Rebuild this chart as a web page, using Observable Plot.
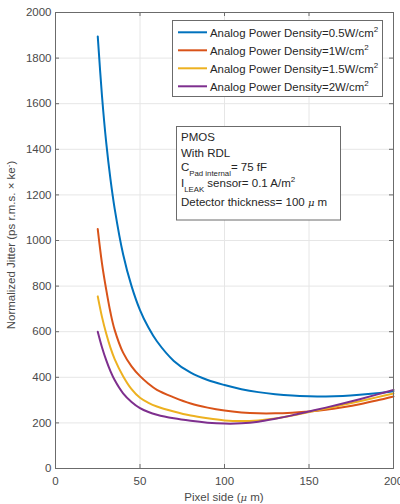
<!DOCTYPE html>
<html><head><meta charset="utf-8">
<script src="https://cdn.jsdelivr.net/npm/d3@7"></script>
<script src="https://cdn.jsdelivr.net/npm/@observablehq/plot@0.6"></script>
<style>
html,body{margin:0;padding:0;background:#fff;}
#chart{width:400px;height:504px;}
</style></head><body><div id="chart"></div>
<script>
// Pixel side (µm)
const pixelSide = [25, 27.5, 30, 32.5, 35, 40, 45, 50, 55, 60, 70, 80, 90, 100, 110, 120, 130, 140, 150, 160, 170, 180, 190, 200];
// Normalized jitter per analog power density
const jitter05 = [1895, 1635, 1430, 1270, 1140, 940, 800, 695, 618, 558, 472, 420, 388, 366, 348, 335, 326, 320, 317, 316, 318, 323, 330, 339];
const jitter1  = [1050, 900, 785, 685, 608, 508, 448, 405, 372, 345, 312, 285, 267, 254, 246, 242, 242, 245, 250, 258, 269, 282, 298, 316];
const jitter15 = [755, 665, 592, 530, 480, 405, 348, 310, 288, 272, 250, 232, 220, 211, 208, 211, 219, 232, 248, 263, 279, 295, 312, 329];
const jitter2  = [600, 532, 475, 427, 388, 330, 292, 265, 248, 236, 220, 209, 201, 197, 198, 205, 218, 233, 250, 267, 285, 304, 324, 345];
const seriesNames = ["0.5", "1", "1.5", "2"];
const seriesColors = ["#0072BD", "#D95319", "#EDB120", "#7E2F8E"];
const xTicks = [0, 50, 100, 150, 200];
const yTicks = [0, 200, 400, 600, 800, 1000, 1200, 1400, 1600, 1800, 2000];

const seriesValues = [jitter05, jitter1, jitter15, jitter2];
const data = [];
seriesValues.forEach((arr, i) => arr.forEach((v, j) => data.push({x: pixelSide[j], y: v, s: seriesNames[i]})));

const W = 400, H = 504, mL = 55, mR = 7, mT = 12, mB = 36;
const iw = W - mL - mR, ih = H - mT - mB;
const tk = 4;
const axisCol = "#6b6b6b";
const font = "Liberation Sans, Arial, Helvetica, sans-serif";

const plot = Plot.plot({
  width: W, height: H,
  marginLeft: mL, marginRight: mR, marginTop: mT, marginBottom: mB,
  style: {fontFamily: font, background: "#fff", color: "#4a4a4a", fontSize: "11.5px"},
  x: {domain: [0, 200]},
  y: {domain: [0, 2000]},
  color: {domain: seriesNames, range: seriesColors},
  marks: [
    Plot.gridX(xTicks, {stroke: "#e6e6e6", strokeOpacity: 1}),
    Plot.gridY(yTicks, {stroke: "#e6e6e6", strokeOpacity: 1}),
    Plot.ruleX(xTicks, {x: d => d, insetTop: ih - tk, stroke: axisCol}),
    Plot.ruleX(xTicks, {x: d => d, insetBottom: ih - tk, stroke: axisCol}),
    Plot.ruleY(yTicks, {y: d => d, insetRight: iw - tk, stroke: axisCol}),
    Plot.ruleY(yTicks, {y: d => d, insetLeft: iw - tk, stroke: axisCol}),
    Plot.line(data, {x: "x", y: "y", z: "s", stroke: "s", strokeWidth: 2, curve: "catmull-rom"}),
    Plot.frame({stroke: axisCol}),
    Plot.axisX(xTicks, {tickSize: 0, tickPadding: 8, label: null, fontSize: 11.5, tickFormat: d3.format("d")}),
    Plot.axisY(yTicks, {tickSize: 0, tickPadding: 4, label: null, fontSize: 11.5, tickFormat: d3.format("d")})
  ]
});

document.getElementById("chart").appendChild(plot);
const svg = d3.select(plot);
const color = plot.scale("color");

// Axis labels
const xl = svg.append("text").attr("x", mL + iw / 2).attr("y", 500.5)
  .attr("text-anchor", "middle").attr("fill", "#4a4a4a").style("font-size", "11.5px");
xl.append("tspan").text("Pixel side (");
xl.append("tspan").attr("font-style", "italic").attr("font-family", "DejaVu Serif, serif").style("font-size", "10px").text("μ");
xl.append("tspan").text(" m)");

const yl = svg.append("text").attr("transform", "translate(15,245) rotate(-90)")
  .attr("text-anchor", "middle").attr("fill", "#4a4a4a").style("font-size", "11.5px");
yl.append("tspan").text("Normalized Jitter (ps r.m.s. × ke");
yl.append("tspan").attr("dy", -4).style("font-size", "8px").text("-");
yl.append("tspan").attr("dy", 4).text(")");

// Legend
const lg = svg.append("g").attr("text-anchor", "start");
lg.append("rect").attr("x", 172.5).attr("y", 20.5).attr("width", 210).attr("height", 76)
  .attr("fill", "#fff").attr("stroke", axisCol);
seriesNames.forEach((s, i) => {
  const y = 32.3 + i * 18;
  lg.append("line").attr("x1", 178).attr("x2", 207).attr("y1", y).attr("y2", y)
    .attr("stroke", color.apply(s)).attr("stroke-width", 2);
  const t = lg.append("text").attr("x", 210).attr("y", y + 4.2).attr("fill", "#262626").style("font-size", "11.4px");
  t.append("tspan").text("Analog Power Density=" + s + "W/cm");
  t.append("tspan").attr("dy", -5).style("font-size", "8px").text("2");
});

// Annotation box
const ab = svg.append("g").attr("text-anchor", "start").style("font-size", "11.5px").attr("fill", "#262626");
ab.append("rect").attr("x", 176.5).attr("y", 126.5).attr("width", 164).attr("height", 93.5)
  .attr("fill", "#fff").attr("stroke", axisCol);
ab.append("text").attr("x", 181).attr("y", 140.7).text("PMOS");
ab.append("text").attr("x", 181).attr("y", 156.5).text("With RDL");
const c = ab.append("text").attr("x", 181).attr("y", 170.5);
c.append("tspan").text("C");
c.append("tspan").attr("dy", 5).style("font-size", "7.8px").text("Pad internal");
c.append("tspan").attr("dy", -5).text("= 75 fF");
const il = ab.append("text").attr("x", 181).attr("y", 187);
il.append("tspan").text("I");
il.append("tspan").attr("dy", 5).style("font-size", "7.8px").text("LEAK");
il.append("tspan").attr("dy", -5).text(" sensor= 0.1 A/m");
il.append("tspan").attr("dy", -5).style("font-size", "8px").text("2");
const dt = ab.append("text").attr("x", 181).attr("y", 205.5);
dt.append("tspan").text("Detector thickness= 100 ");
dt.append("tspan").attr("font-style", "italic").attr("font-family", "DejaVu Serif, serif").style("font-size", "10px").text("μ");
dt.append("tspan").text(" m");
</script>
</body></html>
